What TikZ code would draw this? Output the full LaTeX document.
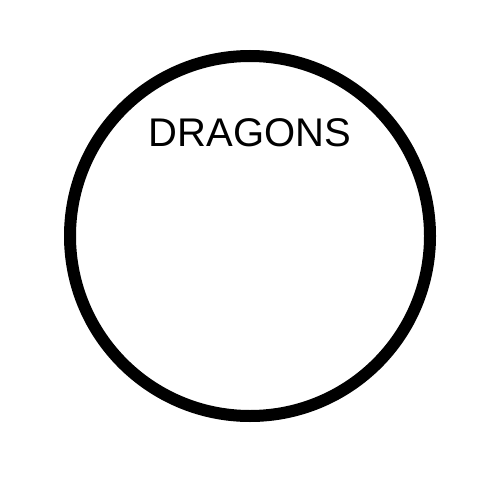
\documentclass[tikz,border=0pt]{standalone}
\usepackage{fontspec}
\setmainfont{Liberation Sans}
\begin{document}
\begin{tikzpicture}[x=1pt,y=-1pt,
  ring/.style={draw=black,line width=12pt},
  lbl/.style={font=\fontsize{40}{40}\selectfont,inner sep=0pt,anchor=base}]
\useasboundingbox[fill=white] (0,0) rectangle (500,500);
\node[ring,circle,minimum size=360pt,inner sep=0pt] (c) at (250,236) {};
\node[lbl] (t) at (250,146) {DRAGONS};
\end{tikzpicture}
\end{document}
